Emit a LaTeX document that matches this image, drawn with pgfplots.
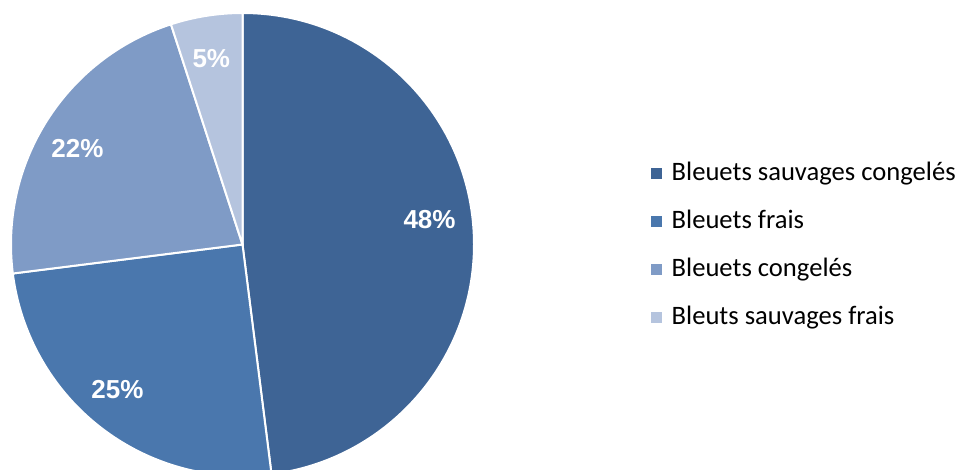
\documentclass[border=0pt]{standalone}
\usepackage{pgfplots}
\pgfplotsset{compat=1.18}
\usepackage{fontspec}
\newfontfamily\labfont{Liberation Sans}
\newfontfamily\legfont{Carlito}

\definecolor{c1}{HTML}{3E6495}
\definecolor{c2}{HTML}{4A77AD}
\definecolor{c3}{HTML}{7F9BC6}
\definecolor{c4}{HTML}{B5C4DE}

\tikzset{lab/.style={text=white, font=\labfont\bfseries\fontsize{26bp}{30bp}\selectfont}}
\pgfplotsset{slice/.style={fill=#1, draw=white, line width=2bp, data cs=polar, forget plot}}

\begin{document}
\begin{tikzpicture}
\useasboundingbox (0,0) rectangle (958bp,470bp);
\begin{axis}[
  at={(242.5bp,225.5bp)}, anchor=center,
  scale only axis, width=463bp, height=463bp,
  xmin=-1, xmax=1, ymin=-1, ymax=1,
  hide axis, clip=false,
  legend image code/.code={\fill[#1, draw=none] (0bp,-5.5bp) rectangle (11bp,5.5bp);},
  legend style={at={(1.3823,0.4972)}, anchor=west, draw=none, fill=none,
    inner sep=0pt, column sep=9.5bp, row sep=22bp,
    nodes={inner sep=0pt, text height=20bp, text depth=6bp},
    font=\legfont\fontsize{26.6bp}{31bp}\selectfont},
  legend cell align=left
]
% parts in percent: 48, 25, 22, 5 (clockwise from the top, 3.6 degrees per percent)
\addplot[slice=c1] coordinates {(0,0) (90,1)}
  arc[start angle=90, end angle={90-3.6*48}, radius=231.5bp] -- cycle;
\addplot[slice=c2] coordinates {(0,0) (-82.8,1)}
  arc[start angle=-82.8, end angle={-82.8-3.6*25}, radius=231.5bp] -- cycle;
\addplot[slice=c3] coordinates {(0,0) (-172.8,1)}
  arc[start angle=-172.8, end angle={-172.8-3.6*22}, radius=231.5bp] -- cycle;
\addplot[slice=c4] coordinates {(0,0) (-252,1)}
  arc[start angle=-252, end angle={-252-3.6*5}, radius=231.5bp] -- cycle;

\addlegendimage{fill=c1, draw=none}
\addlegendentry{Bleuets sauvages congelés}
\addlegendimage{fill=c2, draw=none}
\addlegendentry{Bleuets frais}
\addlegendimage{fill=c3, draw=none}
\addlegendentry{Bleuets congelés}
\addlegendimage{fill=c4, draw=none}
\addlegendentry{Bleuts sauvages frais}

\node[lab] at (axis cs:0.808,0.107) {48\%};
\node[lab] at (axis cs:-0.540,-0.6285) {25\%};
\node[lab] at (axis cs:-0.7127,0.4156) {22\%};
\node[lab] at (axis cs:-0.1348,0.8043) {5\%};
\end{axis}
\end{tikzpicture}
\end{document}
